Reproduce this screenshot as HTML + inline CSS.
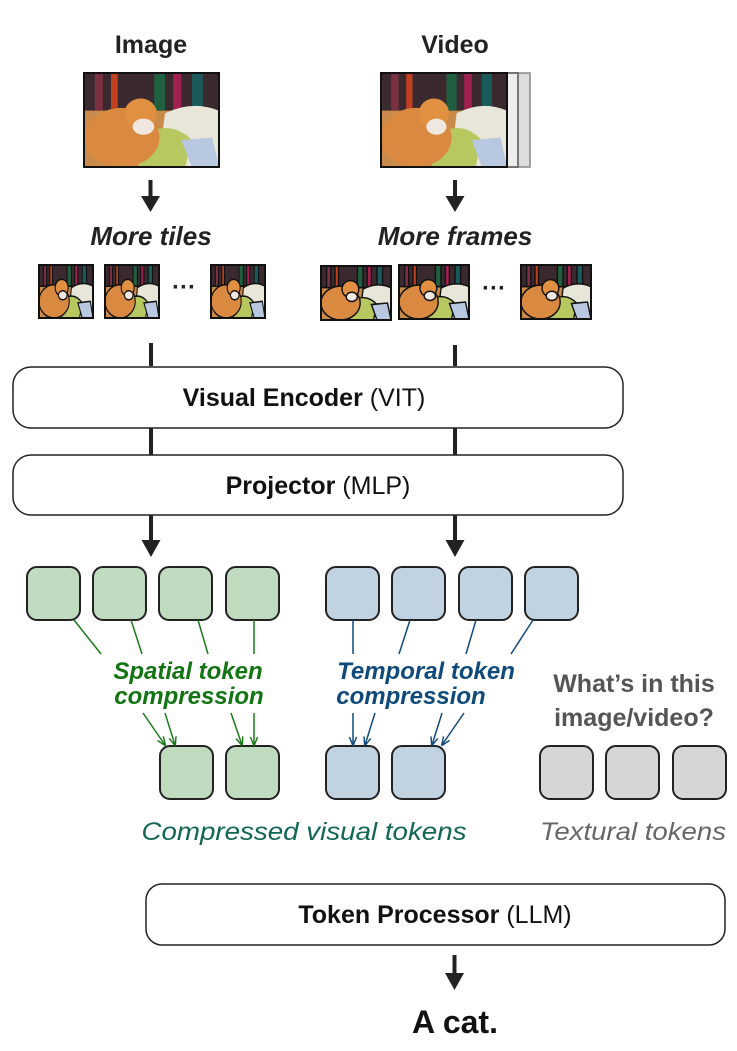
<!DOCTYPE html>
<html><head><meta charset="utf-8"><style>
html,body{margin:0;padding:0;background:#fff}
svg{display:block}
text{font-family:"Liberation Sans",sans-serif}
</style></head><body>
<svg width="737" height="1051" viewBox="0 0 737 1051" xmlns="http://www.w3.org/2000/svg">
<defs>
<symbol id="cat" viewBox="0 0 100 70" preserveAspectRatio="none">
<rect width="100" height="70" fill="#c98a4a"/>
<rect width="100" height="28" fill="#3a2a30"/>
<rect x="8" y="0" width="6" height="28" fill="#7a3040"/>
<rect x="20" y="0" width="5" height="28" fill="#c04020"/>
<rect x="52" y="0" width="8" height="28" fill="#206040"/>
<rect x="66" y="0" width="6" height="28" fill="#a02050"/>
<rect x="80" y="0" width="8" height="28" fill="#1a5a5a"/>
<path d="M60 30 Q80 20 100 28 L100 70 L55 70 Z" fill="#e8e6d8"/>
<path d="M45 45 Q65 35 80 50 L75 70 L40 70 Z" fill="#b8c860"/>
<path d="M72 50 L95 48 L100 70 L80 70 Z" fill="#b8c8e0"/>
<ellipse cx="28" cy="48" rx="28" ry="22" fill="#d98a40"/>
<ellipse cx="42" cy="30" rx="12" ry="11" fill="#e09040"/>
<ellipse cx="44" cy="40" rx="8" ry="6" fill="#f0e8e0"/>
</symbol>
<marker id="ag" viewBox="0 0 10 10" refX="9" refY="5" markerWidth="6" markerHeight="6" orient="auto"><path d="M0 1 L10 5 L0 9" fill="none" stroke="#1a7a1a" stroke-width="1.6"/></marker>
<marker id="ab" viewBox="0 0 10 10" refX="9" refY="5" markerWidth="6" markerHeight="6" orient="auto"><path d="M0 1 L10 5 L0 9" fill="none" stroke="#114a7a" stroke-width="1.6"/></marker>
</defs>

<text x="151" y="53" font-size="25" font-weight="bold" text-anchor="middle" fill="#222">Image</text>
<text x="455" y="53" font-size="25" font-weight="bold" text-anchor="middle" fill="#222">Video</text>

<use href="#cat" x="84" y="73" width="135" height="94"/>
<rect x="84" y="73" width="135" height="94" fill="none" stroke="#111" stroke-width="2"/>

<rect x="392" y="73" width="138" height="94" fill="#ddd" stroke="#888" stroke-width="1.5"/>
<rect x="386" y="73" width="132" height="94" fill="#eee" stroke="#555" stroke-width="1.5"/>
<use href="#cat" x="381" y="73" width="126" height="94"/>
<rect x="381" y="73" width="126" height="94" fill="none" stroke="#111" stroke-width="2"/>

<g fill="#222">
<rect x="148.5" y="180" width="4" height="18"/><path d="M141 196 L160 196 L150.5 212 Z"/>
<rect x="453" y="180" width="4" height="18"/><path d="M445.5 196 L464.5 196 L455 212 Z"/>
</g>

<text x="151" y="245" font-size="26" font-weight="bold" font-style="italic" text-anchor="middle" fill="#222">More tiles</text>
<text x="455" y="245" font-size="26" font-weight="bold" font-style="italic" text-anchor="middle" fill="#222">More frames</text>

<g stroke="#111" stroke-width="2" fill="none">
<use href="#cat" x="39" y="265" width="54" height="53"/><rect x="39" y="265" width="54" height="53"/>
<use href="#cat" x="105" y="265" width="54" height="53"/><rect x="105" y="265" width="54" height="53"/>
<use href="#cat" x="211" y="265" width="54" height="53"/><rect x="211" y="265" width="54" height="53"/>
<use href="#cat" x="321" y="266" width="70" height="54"/><rect x="321" y="266" width="70" height="54"/>
<use href="#cat" x="399" y="265" width="70" height="54"/><rect x="399" y="265" width="70" height="54"/>
<use href="#cat" x="521" y="265" width="70" height="54"/><rect x="521" y="265" width="70" height="54"/>
</g>
<text x="184" y="295" font-size="24" font-weight="bold" text-anchor="middle" fill="#222">···</text>
<text x="494" y="296" font-size="24" font-weight="bold" text-anchor="middle" fill="#222">···</text>

<g fill="#222">
<rect x="149" y="343" width="4" height="23"/>
<rect x="453" y="345" width="4" height="21"/>
<rect x="149" y="428" width="4" height="27"/>
<rect x="453" y="428" width="4" height="27"/>
<rect x="149" y="515" width="4" height="28"/><path d="M141.5 540 L160.5 540 L151 557 Z"/>
<rect x="453" y="515" width="4" height="28"/><path d="M445.5 540 L464.5 540 L455 557 Z"/>
</g>

<rect x="13" y="367" width="610" height="61" rx="18" fill="#fff" stroke="#222" stroke-width="1.5"/>
<text x="304" y="406" font-size="25" text-anchor="middle" fill="#111"><tspan font-weight="bold">Visual Encoder</tspan> (VIT)</text>
<rect x="13" y="455" width="610" height="60" rx="18" fill="#fff" stroke="#222" stroke-width="1.5"/>
<text x="318" y="494" font-size="25" text-anchor="middle" fill="#111"><tspan font-weight="bold">Projector</tspan> (MLP)</text>

<g stroke="#222" stroke-width="2">
<g fill="#c0dbc0">
<rect x="27" y="567" width="53" height="53" rx="10"/>
<rect x="93" y="567" width="53" height="53" rx="10"/>
<rect x="159" y="567" width="53" height="53" rx="10"/>
<rect x="226" y="567" width="53" height="53" rx="10"/>
<rect x="160" y="746" width="53" height="53" rx="10"/>
<rect x="226" y="746" width="53" height="53" rx="10"/>
</g>
<g fill="#c1d3e0">
<rect x="326" y="567" width="53" height="53" rx="10"/>
<rect x="392" y="567" width="53" height="53" rx="10"/>
<rect x="459" y="567" width="53" height="53" rx="10"/>
<rect x="525" y="567" width="53" height="53" rx="10"/>
<rect x="326" y="746" width="53" height="53" rx="10"/>
<rect x="392" y="746" width="53" height="53" rx="10"/>
</g>
<g fill="#d6d6d6">
<rect x="540" y="746" width="53" height="53" rx="10"/>
<rect x="606" y="746" width="53" height="53" rx="10"/>
<rect x="673" y="746" width="53" height="53" rx="10"/>
</g>
</g>

<g stroke="#1a7a1a" stroke-width="1.5" fill="none">
<line x1="74" y1="620" x2="101" y2="654"/>
<line x1="131" y1="620" x2="142" y2="654"/>
<line x1="198" y1="620" x2="208" y2="654"/>
<line x1="254" y1="620" x2="254" y2="654"/>
<line x1="143" y1="713" x2="165" y2="745" marker-end="url(#ag)"/>
<line x1="165" y1="713" x2="175" y2="745" marker-end="url(#ag)"/>
<line x1="231" y1="713" x2="242" y2="745" marker-end="url(#ag)"/>
<line x1="254" y1="713" x2="254" y2="745" marker-end="url(#ag)"/>
</g>
<g stroke="#114a7a" stroke-width="1.5" fill="none">
<line x1="353" y1="620" x2="353" y2="654"/>
<line x1="410" y1="620" x2="399" y2="654"/>
<line x1="476" y1="620" x2="466" y2="654"/>
<line x1="533" y1="620" x2="511" y2="654"/>
<line x1="353" y1="713" x2="353" y2="745" marker-end="url(#ab)"/>
<line x1="375" y1="713" x2="365" y2="745" marker-end="url(#ab)"/>
<line x1="442" y1="713" x2="432" y2="745" marker-end="url(#ab)"/>
<line x1="464" y1="713" x2="442" y2="745" marker-end="url(#ab)"/>
</g>

<g font-size="24" font-weight="bold" font-style="italic">
<text x="188" y="679" text-anchor="middle" fill="#127412">Spatial token</text>
<text x="189" y="704" text-anchor="middle" fill="#127412">compression</text>
<text x="426" y="679" text-anchor="middle" fill="#0f4a7a">Temporal token</text>
<text x="411" y="704" text-anchor="middle" fill="#0f4a7a">compression</text>
</g>
<text x="634" y="692" font-size="25" font-weight="bold" text-anchor="middle" fill="#555">What’s in this</text>
<text x="634" y="726" font-size="25" font-weight="bold" text-anchor="middle" fill="#555">image/video?</text>

<text x="304" y="840" font-size="25" font-style="italic" text-anchor="middle" fill="#116655" textLength="325" lengthAdjust="spacingAndGlyphs">Compressed visual tokens</text>
<text x="633" y="840" font-size="25" font-style="italic" text-anchor="middle" fill="#666" textLength="186" lengthAdjust="spacingAndGlyphs">Textural tokens</text>

<rect x="146" y="884" width="579" height="61" rx="16" fill="#fff" stroke="#222" stroke-width="1.5"/>
<text x="435" y="923" font-size="25" text-anchor="middle" fill="#111"><tspan font-weight="bold">Token Processor</tspan> (LLM)</text>

<rect x="452.5" y="955" width="4" height="20" fill="#222"/><path d="M445 973 L464 973 L454.5 990 Z" fill="#222"/>
<text x="455" y="1033" font-size="32" font-weight="bold" text-anchor="middle" fill="#111">A cat.</text>
</svg>
</body></html>
